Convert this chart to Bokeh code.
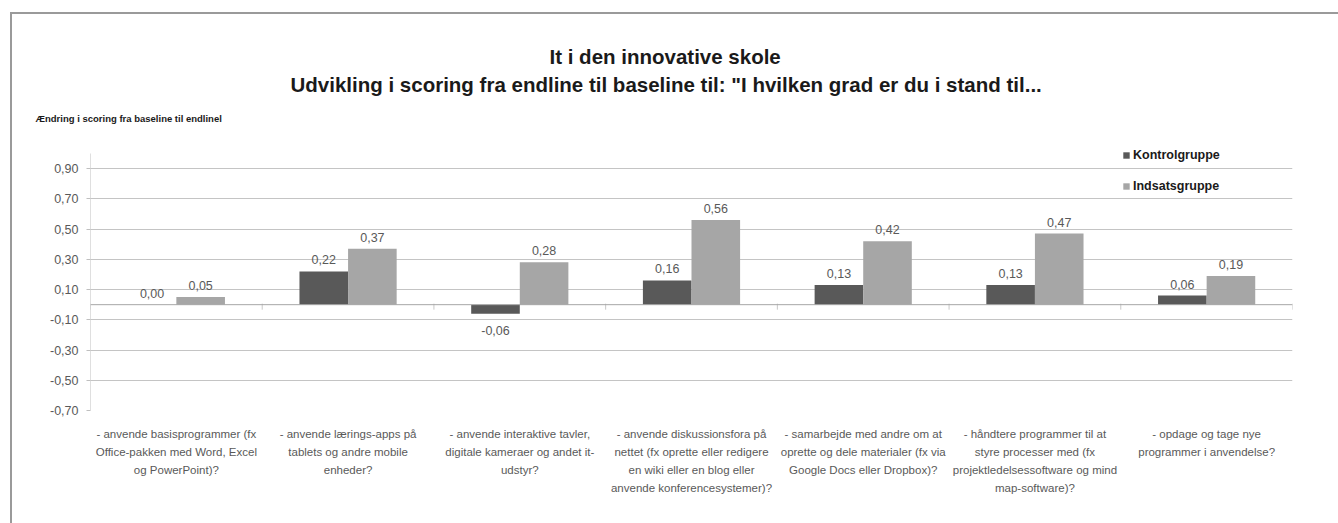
from bokeh.plotting import figure
from bokeh.models import (Range1d, FixedTicker, CustomJSTickFormatter, Span, Title,
                          Legend, LegendItem, ColumnDataSource, InlineStyleSheet)
from bokeh.core.properties import value
from bokeh.embed import file_html
from bokeh.resources import INLINE

# ---------------- data ----------------
categories = [
    "- anvende basisprogrammer (fx\nOffice-pakken med Word, Excel\nog PowerPoint)?",
    "- anvende lærings-apps på\ntablets og andre mobile\nenheder?",
    "- anvende interaktive tavler,\ndigitale kameraer og andet it-\nudstyr?",
    "- anvende diskussionsfora på\nnettet (fx oprette eller redigere\nen wiki eller en blog eller\nanvende konferencesystemer)?",
    "- samarbejde med andre om at\noprette og dele materialer (fx via\nGoogle Docs eller Dropbox)?",
    "- håndtere programmer til at\nstyre processer med (fx\nprojektledelsessoftware og mind\nmap-software)?",
    "- opdage og tage nye\nprogrammer i anvendelse?",
]
kontrol = [0.00, 0.22, -0.06, 0.16, 0.13, 0.13, 0.06]
indsats = [0.05, 0.37, 0.28, 0.56, 0.42, 0.47, 0.19]
series_names = ["Kontrolgruppe", "Indsatsgruppe"]
y_ticks = [-0.70, -0.50, -0.30, -0.10, 0.10, 0.30, 0.50, 0.70, 0.90]
title_1 = "It i den innovative skole"
title_2 = 'Udvikling i scoring fra endline til baseline til: "I hvilken grad er du i stand til...'
y_title = "Ændring i scoring fra baseline til endlinel"

# ---------------- layout (page pixel coordinates) ----------------
W, H = 1338, 523
BX, BY, BW = 10, 12, 2          # outer chart border (left / top edge)
AX_MIN, AX_MAX = -0.70, 1.0     # extent of the value axis line
AX_TOP, AX_BOTTOM = 153, 410    # page y of AX_MAX / AX_MIN
ppu = (AX_BOTTOM - AX_TOP) / (AX_MAX - AX_MIN)
EXTRA_TOP = 16                  # room above the axis for the legend
F_LEFT, F_RIGHT = 90, 1292
F_TOP, F_BOTTOM = AX_TOP - EXTRA_TOP, AX_BOTTOM
Y_MIN, Y_MAX = AX_MIN, AX_MAX + EXTRA_TOP / ppu
n = len(categories)
FONT = "Liberation Sans"
DARK, LIGHT, TXT, AXC = "#595959", "#a6a6a6", "#595959", "#bfbfbf"

border_css = InlineStyleSheet(css=f"""
:host::before {{
  content: ""; position: absolute; left: {BX}px; top: {BY}px; right: 0; bottom: 0;
  border-left: {BW}px solid #9a9a9a; border-top: {BW}px solid #9a9a9a;
  pointer-events: none; z-index: 10;
}}
""")

p = figure(width=W, height=H, output_backend="svg", toolbar_location=None,
           x_range=Range1d(0, n), y_range=Range1d(Y_MIN, Y_MAX),
           min_border_left=F_LEFT, min_border_right=W - F_RIGHT,
           min_border_top=F_TOP, min_border_bottom=H - F_BOTTOM,
           stylesheets=[border_css])
p.outline_line_color = None
p.background_fill_color = "white"
p.border_fill_color = "white"

bw = 0.283
centers = [i + 0.5 for i in range(n)]
src = ColumnDataSource(dict(
    xk=[c - bw / 2 for c in centers], xi=[c + bw / 2 for c in centers],
    k=kontrol, i=indsats,
    kl=[f"{v:.2f}".replace(".", ",") for v in kontrol],
    il=[f"{v:.2f}".replace(".", ",") for v in indsats],
    kb=["bottom" if v >= 0 else "top" for v in kontrol],
    ib=["bottom" if v >= 0 else "top" for v in indsats],
    ko=[-7 if v >= 0 else 12 for v in kontrol],
    io=[-7 if v >= 0 else 12 for v in indsats],
))

rk = p.vbar(x="xk", top="k", bottom=0, width=bw, source=src, fill_color=DARK, line_color=None)
ri = p.vbar(x="xi", top="i", bottom=0, width=bw, source=src, fill_color=LIGHT, line_color=None)

for xcol, ycol, tcol, bcol, ocol in (("xk", "k", "kl", "kb", "ko"), ("xi", "i", "il", "ib", "io")):
    p.text(x=xcol, y=ycol, text=tcol, source=src, text_align="center",
           text_baseline=bcol, y_offset=ocol, text_font=value(FONT),
           text_font_size="12.5px", text_color=TXT)

# value axis line (only up to AX_MAX)
p.segment(x0=[0], x1=[0], y0=[AX_MIN], y1=[AX_MAX], line_color=AXC, line_width=1)

# zero (category) axis line and its boundary ticks
p.add_layout(Span(location=0, dimension="width", line_color="#a6a6a6", line_width=1))
bounds = list(range(0, n + 1))
tick_len = 5 / ppu
p.segment(x0=bounds, x1=bounds, y0=[tick_len * 0.2] * len(bounds), y1=[-tick_len] * len(bounds),
          line_color="#c8c8c8", line_width=1)

# y axis
p.yaxis.ticker = FixedTicker(ticks=y_ticks)
p.yaxis.formatter = CustomJSTickFormatter(code="return tick.toFixed(2).replace('.', ',');")
p.yaxis.axis_line_color = None
p.yaxis.major_tick_line_color = AXC
p.yaxis.major_tick_out = 4
p.yaxis.major_tick_in = 0
p.yaxis.minor_tick_line_color = None
p.yaxis.major_label_text_font = FONT
p.yaxis.major_label_text_font_size = "12.5px"
p.yaxis.major_label_text_color = TXT
p.yaxis.major_label_standoff = 8
p.ygrid.ticker = FixedTicker(ticks=y_ticks)
p.ygrid.grid_line_color = "#c4c4c4"
p.xgrid.grid_line_color = None

# x axis
p.xaxis.ticker = FixedTicker(ticks=centers)
p.xaxis.major_label_overrides = {c: lab for c, lab in zip(centers, categories)}
p.xaxis.axis_line_color = None
p.xaxis.major_tick_line_color = None
p.xaxis.minor_tick_line_color = None
p.xaxis.major_label_text_font = FONT
p.xaxis.major_label_text_font_size = "11.5px"
p.xaxis.major_label_text_color = TXT
p.xaxis.major_label_text_line_height = 1.5
p.xaxis.major_label_standoff = 11

# axis title (closest to frame) and the two title lines
TITLE_BASE = F_LEFT + 1
p.add_layout(Title(text=y_title, align="left", offset=36 - TITLE_BASE, standoff=43 - EXTRA_TOP,
                   text_font=FONT, text_font_size="9.5px", text_font_style="bold",
                   text_color="#1a1a1a"), "above")
p.add_layout(Title(text=title_2, align="left", offset=291 - TITLE_BASE, standoff=3,
                   text_font=FONT, text_font_size="20.5px", text_font_style="bold",
                   text_color="#1a1a1a"), "above")
p.add_layout(Title(text=title_1, align="left", offset=550 - TITLE_BASE, standoff=3,
                   text_font=FONT, text_font_size="20.5px", text_font_style="bold",
                   text_color="#1a1a1a"), "above")

legend = Legend(items=[LegendItem(label=series_names[0], renderers=[rk]),
                       LegendItem(label=series_names[1], renderers=[ri])],
                location=(1122 - 90, 216), orientation="vertical",
                padding=0, margin=0, spacing=15, label_height=16,
                glyph_width=8, glyph_height=8, label_standoff=3,
                background_fill_alpha=0, border_line_color=None,
                label_text_font=FONT, label_text_font_size="12.5px",
                label_text_font_style="bold", label_text_color="#1a1a1a")
p.add_layout(legend)

open("out.html", "w").write(file_html(p, INLINE))
